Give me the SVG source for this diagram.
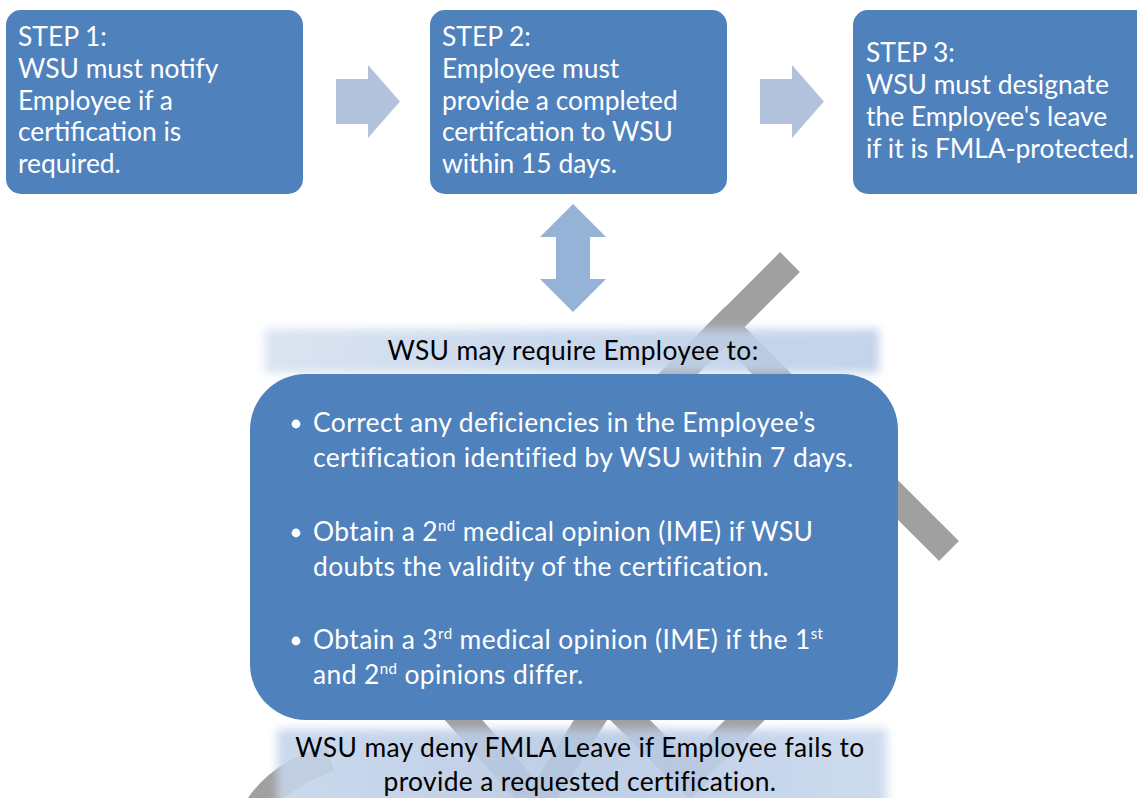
<svg xmlns="http://www.w3.org/2000/svg" width="1137" height="798" viewBox="0 0 1137 798">
<style>
.box{fill:#4F81BD}
.wt{fill:#FFFFFF;font-family:Lato,"Open Sans",sans-serif;font-size:26.4px}
.ls{letter-spacing:0.4px}
.bk{fill:#000000;font-family:Lato,"Open Sans",sans-serif;font-size:26.4px;letter-spacing:0.35px}
.gray{stroke:#A0A0A0;stroke-width:28;fill:none;stroke-linecap:butt}
.harrow{fill:#B3C2DC}
.varrow{fill:#95B3D7}
.sup{font-size:15px}
</style>
<defs>
<filter id="soft" x="-10%" y="-30%" width="120%" height="160%"><feGaussianBlur stdDeviation="5"/></filter>
<linearGradient id="bar1" x1="0" y1="0" x2="1" y2="0">
<stop offset="0" stop-color="#D6E1F0"/>
<stop offset="0.5" stop-color="#C3D4EB"/>
<stop offset="1" stop-color="#BCCFE8"/>
</linearGradient>
<linearGradient id="bar2" x1="0" y1="0" x2="1" y2="0">
<stop offset="0" stop-color="#C6D5EA"/>
<stop offset="0.5" stop-color="#B6C9E4"/>
<stop offset="1" stop-color="#C9D8ED"/>
</linearGradient>
</defs>

<g id="background">
<line class="gray" x1="790" y1="262" x2="560" y2="492"/>
<line class="gray" x1="715" y1="317" x2="949" y2="551"/>
<path class="gray" stroke-width="40" d="M252 820 Q270 778 330 758"/>
<line class="gray" x1="450" y1="705" x2="535" y2="800"/>
<line class="gray" x1="600" y1="705" x2="540" y2="800"/>
<line class="gray" x1="615" y1="705" x2="700" y2="790"/>
<line class="gray" x1="760" y1="705" x2="690" y2="775"/>
</g>

<g id="step1">
<rect class="box" x="6" y="10" width="297" height="184" rx="15"/>
<text class="wt" x="18" y="46">STEP 1:</text>
<text class="wt" x="18" y="78">WSU must notify</text>
<text class="wt" x="18" y="110">Employee if a</text>
<text class="wt" x="18" y="141">certification is</text>
<text class="wt" x="18" y="173">required.</text>
</g>

<g id="step2">
<rect class="box" x="430" y="10" width="297" height="184" rx="15"/>
<text class="wt" x="442" y="46">STEP 2:</text>
<text class="wt" x="442" y="78">Employee must</text>
<text class="wt" x="442" y="110">provide a completed</text>
<text class="wt" x="442" y="141">certifcation to WSU</text>
<text class="wt" x="442" y="173">within 15 days.</text>
</g>

<g id="step3">
<rect class="box" x="853" y="10" width="310" height="184" rx="15"/>
<text class="wt" x="866" y="62">STEP 3:</text>
<text class="wt" x="866" y="94">WSU must designate</text>
<text class="wt" x="866" y="126">the Employee's leave</text>
<text class="wt" x="866" y="158">if it is FMLA-protected.</text>
</g>

<g id="connectors">
<path class="harrow" d="M336 79 H368 V65 L400 101.5 L368 138 V124 H336 Z"/>
<path class="harrow" d="M760 79 H792 V65 L824 101.5 L792 138 V124 H760 Z"/>
<path class="varrow" d="M573 204 L606 237 H590 V279 H606 L573 312 L540 279 H556 V237 H540 Z"/>
</g>

<g id="header">
<rect x="265" y="329" width="614" height="44" fill="url(#bar1)" opacity="0.9" filter="url(#soft)"/>
<text class="bk" x="573" y="360" text-anchor="middle">WSU may require Employee to:</text>
</g>

<g id="requirements">
<rect class="box" x="250" y="374" width="648" height="346" rx="56"/>
<circle cx="296" cy="424" r="4.4" fill="#FFFFFF"/>
<text class="wt ls" x="313" y="432">Correct any deficiencies in the Employee’s</text>
<text class="wt ls" x="313" y="467">certification identified by WSU within 7 days.</text>
<circle cx="296" cy="533" r="4.4" fill="#FFFFFF"/>
<text class="wt ls" x="313" y="541">Obtain a 2<tspan class="sup" dy="-10">nd</tspan><tspan dy="10"> medical opinion (IME) if WSU</tspan></text>
<text class="wt ls" x="313" y="576">doubts the validity of the certification.</text>
<circle cx="296" cy="641" r="4.4" fill="#FFFFFF"/>
<text class="wt ls" x="313" y="649">Obtain a 3<tspan class="sup" dy="-10">rd</tspan><tspan dy="10"> medical opinion (IME) if the 1</tspan><tspan class="sup" dy="-10">st</tspan></text>
<text class="wt ls" x="313" y="684">and 2<tspan class="sup" dy="-10">nd</tspan><tspan dy="10"> opinions differ.</tspan></text>
</g>

<g id="footer">
<rect x="277" y="729" width="610" height="90" fill="url(#bar2)" opacity="0.9" filter="url(#soft)"/>
<text class="bk" x="580" y="757" text-anchor="middle">WSU may deny FMLA Leave if Employee fails to</text>
<text class="bk" x="580" y="791" text-anchor="middle">provide a requested certification.</text>
</g>
</svg>
